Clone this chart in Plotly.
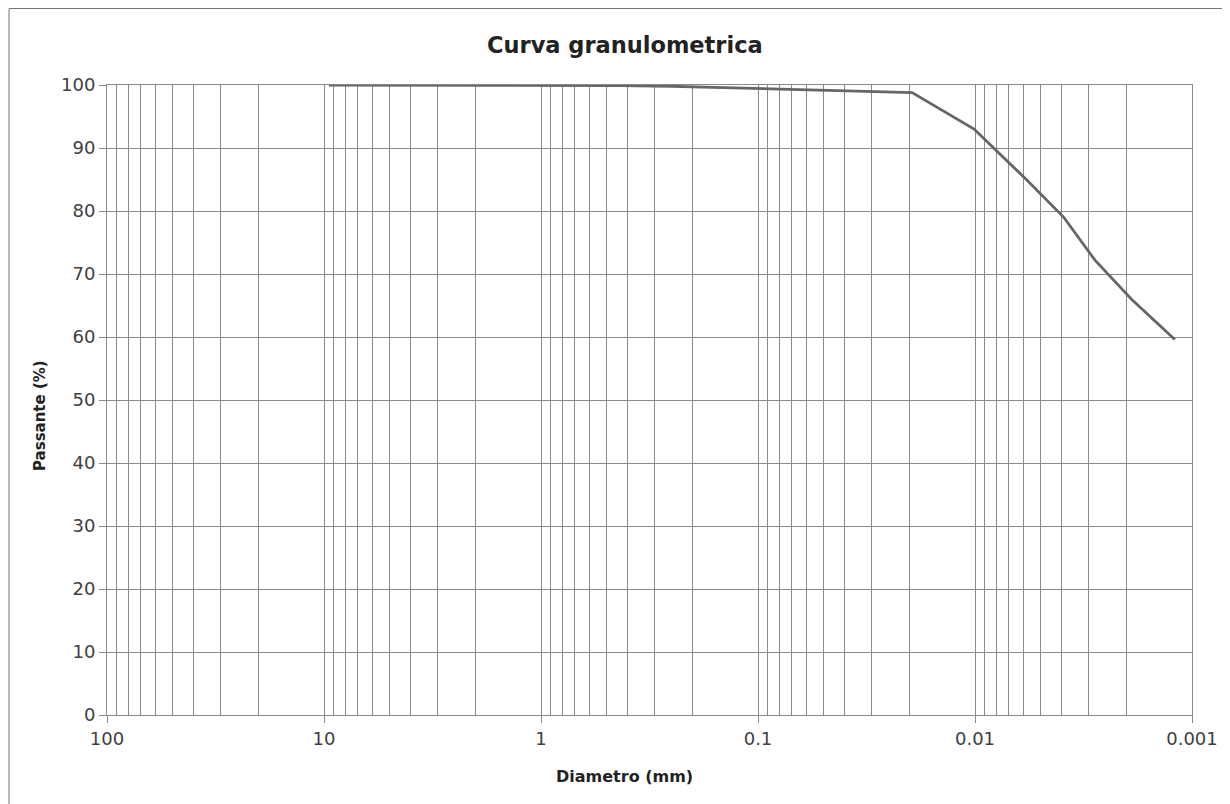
import plotly.graph_objects as go

# Data (diameter in mm, passing %)
diametro = [9.5, 4.75, 2.0, 0.85, 0.425, 0.25, 0.106, 0.075, 0.0195, 0.0101, 0.0058, 0.0039, 0.0028, 0.0019, 0.0012]
passante = [100, 100, 100, 100, 99.9, 99.8, 99.5, 99.3, 98.8, 93.0, 85.0, 79.0, 72.2, 66.0, 59.6]

x_ticks = [100, 10, 1, 0.1, 0.01, 0.001]
x_labels = ["100", "10", "1", "0.1", "0.01", "0.001"]

W, H = 1230, 804
ml, mr, mt, mb = 99, 46, 77, 97
pw = W - ml - mr
ph = H - mt - mb

FONT = "DejaVu Sans, Liberation Sans, Arial, sans-serif"

fig = go.Figure()
fig.add_trace(go.Scatter(
    x=diametro, y=passante, mode="lines",
    line=dict(color="#666666", width=2.8),
    showlegend=False, hoverinfo="x+y",
))

grid = "#8a8a8a"
fig.update_layout(
    width=W, height=H,
    margin=dict(l=ml, r=mr, t=mt, b=mb, autoexpand=False),
    paper_bgcolor="white", plot_bgcolor="white",
    font=dict(family=FONT, color="#3a3a3a"),
    xaxis=dict(
        type="log", range=[2, -3],
        tickvals=x_ticks, ticktext=x_labels,
        tickfont=dict(size=18, color="#404040", family=FONT),
        showgrid=True, gridcolor=grid, gridwidth=1,
        minor=dict(dtick="D1", showgrid=True, gridcolor=grid, gridwidth=1, ticks=""),
        showline=True, linecolor=grid, linewidth=1, mirror=True,
        ticks="outside", ticklen=7, tickcolor=grid,
        zeroline=False,
    ),
    yaxis=dict(
        range=[0, 100], dtick=10,
        tickfont=dict(size=18, color="#404040", family=FONT),
        showgrid=True, gridcolor=grid, gridwidth=1,
        showline=True, linecolor=grid, linewidth=1, mirror=True,
        ticks="outside", ticklen=7, tickcolor=grid,
        zeroline=False,
    ),
)

def px_x(x):
    return (x - ml) / pw

def px_y(y):
    return (mt + ph - y) / ph

# Title and axis titles
fig.add_annotation(text="<b>Curva granulometrica</b>", xref="paper", yref="paper",
                   x=px_x(617), y=px_y(37), showarrow=False, xanchor="center", yanchor="middle",
                   font=dict(size=22.5, color="#222222", family=FONT))
fig.add_annotation(text="<b>Diametro (mm)</b>", xref="paper", yref="paper",
                   x=px_x(616), y=px_y(768), showarrow=False, xanchor="center", yanchor="middle",
                   font=dict(size=16, color="#222222", family=FONT))
fig.add_annotation(text="<b>Passante (%)</b>", xref="paper", yref="paper",
                   x=px_x(32), y=px_y(408), showarrow=False, xanchor="center", yanchor="middle",
                   textangle=-90, font=dict(size=15, color="#222222", family=FONT))

# Outer chart-area border
fig.add_shape(type="rect", xref="paper", yref="paper",
              x0=px_x(1), x1=px_x(1217), y0=px_y(802), y1=px_y(0.5),
              line=dict(color="#777777", width=1), layer="below")

fig.write_html("out.html")
